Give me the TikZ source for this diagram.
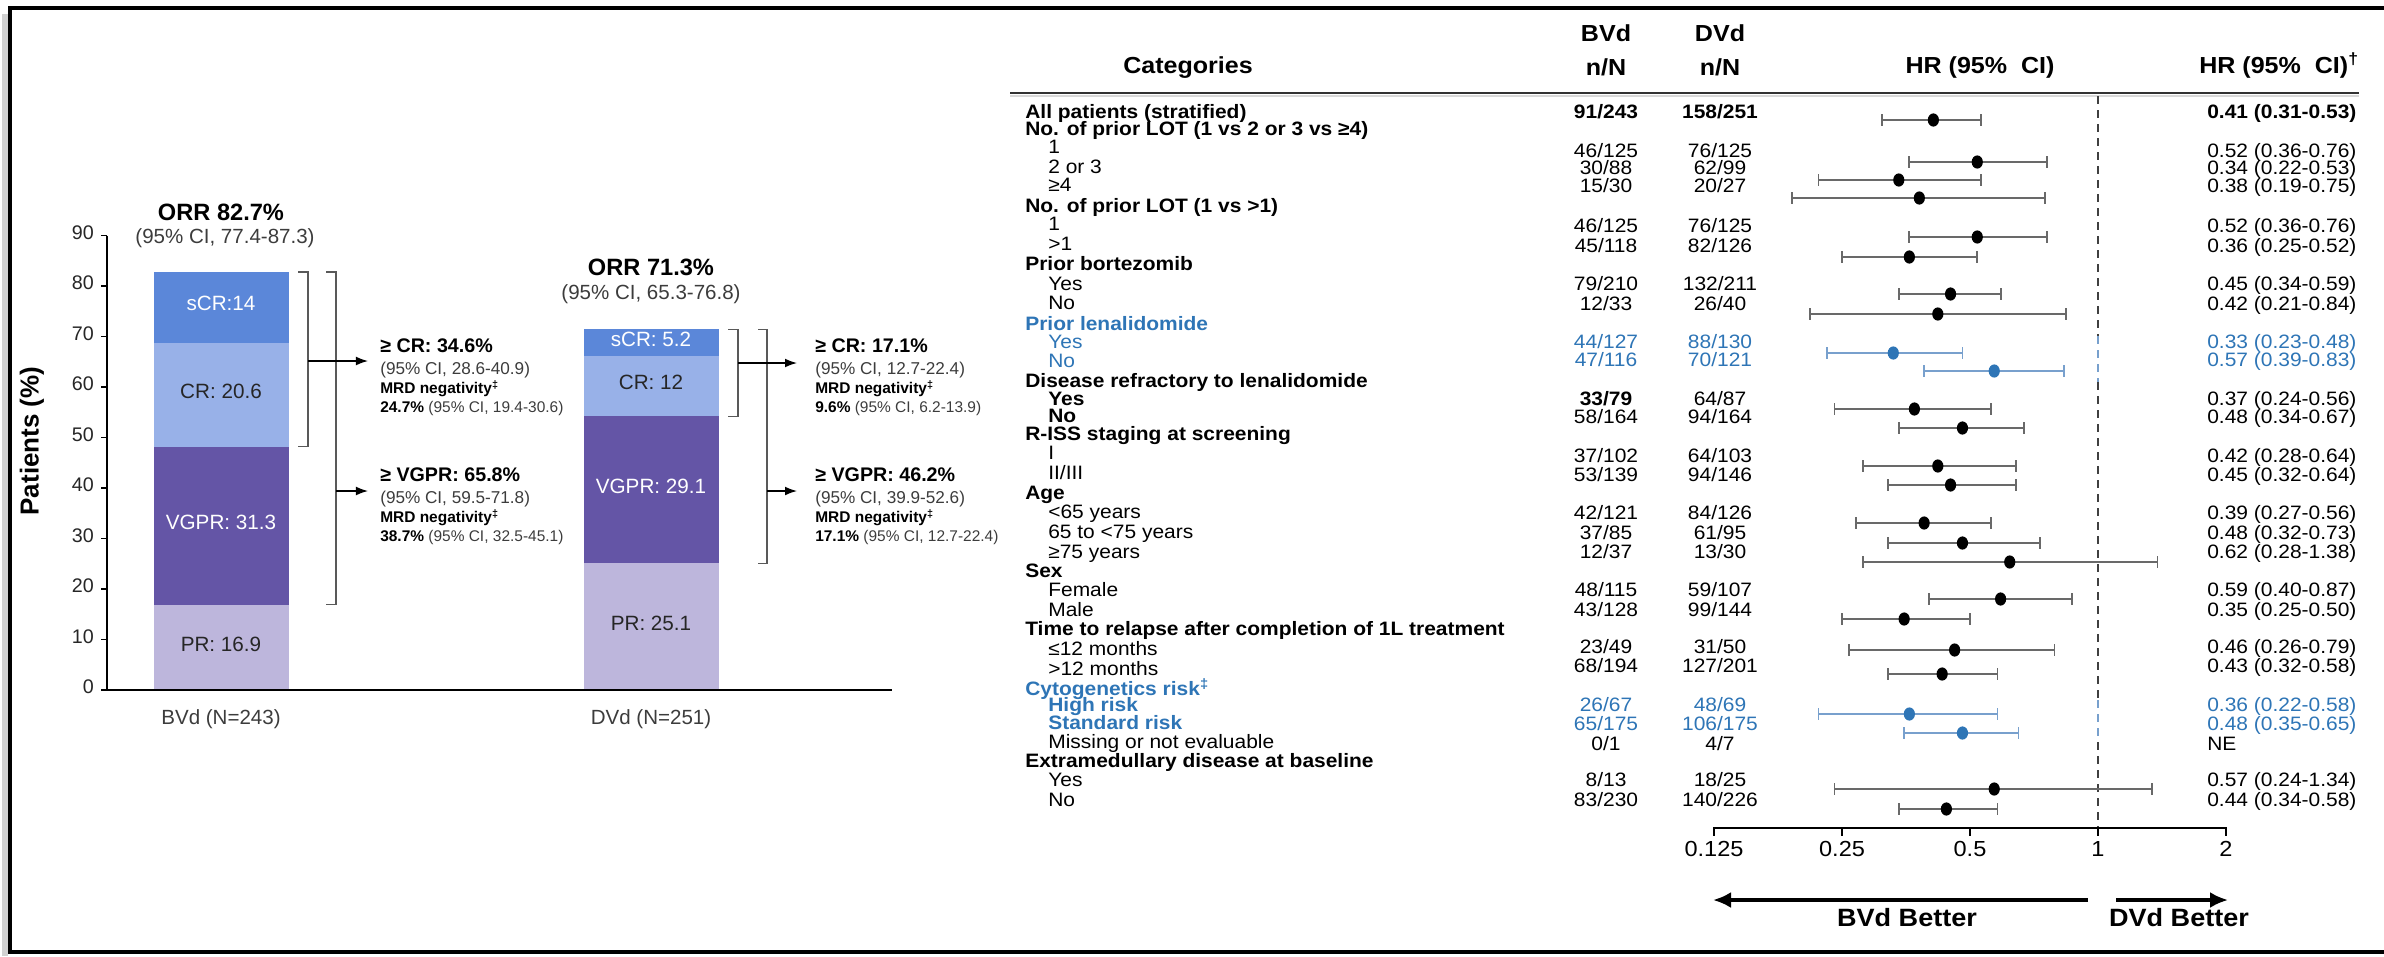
\documentclass[tikz,border=0pt]{standalone}
\usepackage{fontspec}
\setmainfont{Liberation Sans}
\newfontfamily\tblfont[FakeStretch=1.08]{Liberation Sans}
\usepackage{tikz}
\usetikzlibrary{calc}
\usetikzlibrary{arrows.meta}
\tikzset{>=latex}

\definecolor{scrblue}{RGB}{91,135,217}
\definecolor{crblue}{RGB}{152,177,232}
\definecolor{vgprpurple}{RGB}{100,85,166}
\definecolor{prlilac}{RGB}{189,182,220}
\definecolor{hlblue}{RGB}{46,117,182}
\definecolor{hlci}{RGB}{120,160,205}
\definecolor{cigray}{RGB}{105,105,105}
\definecolor{txtgray}{RGB}{60,60,60}

\newcommand{\fs}[1]{\fontsize{#1}{#1}\selectfont}
\newcommand{\tf}[1]{\tblfont\fontsize{#1}{#1}\selectfont}

\tikzset{
    every node/.style={inner sep=0pt},
    cat/.style={anchor=mid west, font=\tf{13.8}\bfseries},
    sub/.style={anchor=mid west, xshift=0.575cm, font=\tf{13.8}},
    bsub/.style={sub, font=\tf{13.8}\bfseries},
    hlcat/.style={cat, text=hlblue},
    hlsub/.style={sub, text=hlblue},
    hlbsub/.style={bsub, text=hlblue},
    num/.style={anchor=mid, font=\tf{13.8}},
    bnum/.style={num, font=\tf{13.8}\bfseries},
    hlnum/.style={num, text=hlblue},
    hdr/.style={anchor=mid, font=\tf{16.5}\bfseries},
    cibar/.style={line width=1.3pt},
    dashln/.style={line width=1.3pt, dash pattern=on 0.2cm off 0.15cm},
    axln/.style={line width=1.6pt},
    better/.style={line width=2.4pt, -{Latex[length=0.45cm, width=0.4cm]}},
    barlab/.style={anchor=mid, font=\fs{14.7}},
    ytick/.style={anchor=mid east, font=\fs{14}, text=black!85},
    brk/.style={line width=0.9pt, black!65},
    ann/.style={line width=0.9pt, -{Latex[length=0.3cm, width=0.22cm]}},
    resp/.style={anchor=mid west, font=\fs{14}\bfseries},
    respci/.style={anchor=mid west, font=\fs{12.2}, text=txtgray},
    mrd/.style={anchor=mid west, font=\fs{11}\bfseries},
    mrdval/.style={anchor=mid west, font=\fs{11}, text=txtgray},
    frm/.style={line width=2.2pt},
}

\begin{document}
\begin{tikzpicture}[x=0.025cm, y=-0.025cm]
    \useasboundingbox (0,0) rectangle (2384,956);
    % frame
    \draw[black!18, line width=4pt] (5,14) -- (5,956);
    \draw[frm] (2384,8) -- (10,8) -- (10,952) -- (2384,952);

    % response bars
    \foreach \xl/\lo/\hi/\col in {154/0/16.9/prlilac, 154/16.9/48.2/vgprpurple, 154/48.2/68.8/crblue, 154/68.8/82.8/scrblue,
                                  584/0/25.1/prlilac, 584/25.1/54.2/vgprpurple, 584/54.2/66.2/crblue, 584/66.2/71.4/scrblue}
        \fill[\col] (\xl,{690-5.05*\lo}) rectangle ({\xl+135},{690-5.05*\hi});
    \foreach \xc/\v/\lab/\tc [count=\i] in {221/8.45/{PR: 16.9}/black!85, 221/32.55/{VGPR: 31.3}/white, 221/58.5/{CR: 20.6}/black!85, 221/75.8/{sCR:14}/white,
                                            651/12.55/{PR: 25.1}/black!85, 651/39.65/{VGPR: 29.1}/white, 651/60.2/{CR: 12}/black!85, 651/68.8/{sCR: 5.2}/white}
        \node[barlab, text=\tc] (seg\i) at (\xc,{690-5.05*\v}) {\lab};

    % axes
    \draw[line width=1.4pt] (107,{690-5.05*90}) -- (107,690);
    \draw[line width=1.4pt] (101,690) -- (892,690);
    \foreach \v in {0,10,...,90}{
        \draw[line width=1.4pt] (101,{690-5.05*\v}) -- (107,{690-5.05*\v});
        \node[ytick] (yt\v) at (94,{690-5.05*\v}) {\v};
    }
    \node[rotate=90, font=\fs{18.5}\bfseries] (ylab) at (32,441) {Patients\ (\%)};
    \node[font=\fs{16.8}\bfseries] (orr1) at (221,212) {ORR 82.7\%};
    \node[font=\fs{14.6}, text=txtgray] (orr1ci) at (225,238) {(95\% CI, 77.4-87.3)};
    \node[font=\fs{16.8}\bfseries] (orr2) at (651,267) {ORR 71.3\%};
    \node[font=\fs{14.6}, text=txtgray] (orr2ci) at (651,294) {(95\% CI, 65.3-76.8)};
    \node[font=\fs{14.6}, text=txtgray] (arm1) at (221,719) {BVd (N=243)};
    \node[font=\fs{14.6}, text=txtgray] (arm2) at (651,719) {DVd (N=251)};

    % brackets, BVd
    \draw[brk] (298,271.9) -- (308,271.9) -- (308,446.6) -- (298,446.6);
    \draw[brk] (326,271.9) -- (336,271.9) -- (336,604.7) -- (326,604.7);
    \node[resp] (b1cr) at (380,349) {≥ CR: 34.6\%};
    \node[respci] (b1crci) at (380,371) {(95\% CI, 28.6-40.9)};
    \node[mrd] (b1crm) at (380,390) {MRD negativity\textsuperscript{‡}};
    \node[mrdval] (b1crv) at (380,409) {\textcolor{black}{\bfseries 24.7\%} (95\% CI, 19.4-30.6)};
    \node[resp] (b1vg) at (380,478) {≥ VGPR: 65.8\%};
    \node[respci] (b1vgci) at (380,500) {(95\% CI, 59.5-71.8)};
    \node[mrd] (b1vgm) at (380,519) {MRD negativity\textsuperscript{‡}};
    \node[mrdval] (b1vgv) at (380,538) {\textcolor{black}{\bfseries 38.7\%} (95\% CI, 32.5-45.1)};
    \coordinate (b1cra) at (308,361);
    \coordinate (b1vga) at (336,491);
    \draw[ann, shorten >=0.3cm] (b1cra) -- (b1cra -| b1cr.west);
    \draw[ann, shorten >=0.3cm] (b1vga) -- (b1vga -| b1vg.west);

    % brackets, DVd
    \draw[brk] (728,329.4) -- (738,329.4) -- (738,416.3) -- (728,416.3);
    \draw[brk] (758,329.4) -- (767,329.4) -- (767,563.2) -- (758,563.2);
    \node[resp] (b2cr) at (815,349) {≥ CR: 17.1\%};
    \node[respci] (b2crci) at (815,371) {(95\% CI, 12.7-22.4)};
    \node[mrd] (b2crm) at (815,390) {MRD negativity\textsuperscript{‡}};
    \node[mrdval] (b2crv) at (815,409) {\textcolor{black}{\bfseries 9.6\%} (95\% CI, 6.2-13.9)};
    \node[resp] (b2vg) at (815,478) {≥ VGPR: 46.2\%};
    \node[respci] (b2vgci) at (815,500) {(95\% CI, 39.9-52.6)};
    \node[mrd] (b2vgm) at (815,519) {MRD negativity\textsuperscript{‡}};
    \node[mrdval] (b2vgv) at (815,538) {\textcolor{black}{\bfseries 17.1\%} (95\% CI, 12.7-22.4)};
    \coordinate (b2cra) at (738,363);
    \coordinate (b2vga) at (767,491);
    \draw[ann, shorten >=0.45cm] (b2cra) -- (b2cra -| b2cr.west);
    \draw[ann, shorten >=0.45cm] (b2vga) -- (b2vga -| b2vg.west);

    % forest table header
    \node[hdr] (hcat) at (1188,70) {Categories};
    \node[hdr] (hbv) at (1606,38) {BVd};
    \node[hdr] (hbvn) at (1606,72) {n/N};
    \node[hdr] (hdv) at (1720,38) {DVd};
    \node[hdr] (hdvn) at (1720,72) {n/N};
    \node[hdr] (hhr) at (1980,70) {HR (95\%\ \ CI)};
    \node[hdr, anchor=mid east] (hhrt) at (2359,70) {HR (95\%\ \ CI)\textsuperscript{†}};
    \draw[black!15, line width=2pt] (1010,96) -- (2359,96);
    \draw[black!80, line width=1.5pt] (1010,93) -- (2359,93);

    % categories
    \foreach \y/\lab/\sty in {115/All patients (stratified)/cat, 132/No. of prior LOT (1 vs 2 or 3 vs ≥4)/cat,
                              150/1/sub, 170/2 or 3/sub, 188/≥4/sub,
                              209/No. of prior LOT (1 vs >1)/cat, 227/1/sub, 247/>1/sub,
                              267/Prior bortezomib/cat, 287/Yes/sub, 306/No/sub,
                              327/Prior lenalidomide/hlcat, 345/Yes/hlsub, 364/No/hlsub,
                              384/Disease refractory to lenalidomide/cat, 402/Yes/bsub, 419/No/bsub,
                              437/R-ISS staging at screening/cat, 456/I/sub, 476/{II/III}/sub,
                              496/Age/cat, 515/<65 years/sub, 535/65 to <75 years/sub, 555/≥75 years/sub,
                              574/Sex/cat, 593/Female/sub, 613/Male/sub,
                              632/Time to relapse after completion of 1L treatment/cat, 652/≤12 months/sub, 672/>12 months/sub,
                              692/{Cytogenetics risk\textsuperscript{‡}}/hlcat, 708/High risk/hlbsub, 726/Standard risk/hlbsub,
                              745/Missing or not evaluable/sub,
                              764/Extramedullary disease at baseline/cat, 783/Yes/sub, 803/No/sub}
        \node[\sty] (lab\y) at (1025,\y) {\lab};

    % n/N and HR values
    \foreach \y/\bv/\dv/\hrt/\sty in {115/{91/243}/{158/251}/{0.41 (0.31-0.53)}/bnum,
                                     154/{46/125}/{76/125}/{0.52 (0.36-0.76)}/num, 171/{30/88}/{62/99}/{0.34 (0.22-0.53)}/num,
                                     189/{15/30}/{20/27}/{0.38 (0.19-0.75)}/num,
                                     229/{46/125}/{76/125}/{0.52 (0.36-0.76)}/num, 249/{45/118}/{82/126}/{0.36 (0.25-0.52)}/num,
                                     287/{79/210}/{132/211}/{0.45 (0.34-0.59)}/num, 307/{12/33}/{26/40}/{0.42 (0.21-0.84)}/num,
                                     345/{44/127}/{88/130}/{0.33 (0.23-0.48)}/hlnum, 363/{47/116}/{70/121}/{0.57 (0.39-0.83)}/hlnum,
                                     402/{\textbf{33/79}}/{64/87}/{0.37 (0.24-0.56)}/num, 420/{58/164}/{94/164}/{0.48 (0.34-0.67)}/num,
                                     459/{37/102}/{64/103}/{0.42 (0.28-0.64)}/num, 478/{53/139}/{94/146}/{0.45 (0.32-0.64)}/num,
                                     516/{42/121}/{84/126}/{0.39 (0.27-0.56)}/num, 536/{37/85}/{61/95}/{0.48 (0.32-0.73)}/num,
                                     555/{12/37}/{13/30}/{0.62 (0.28-1.38)}/num,
                                     593/{48/115}/{59/107}/{0.59 (0.40-0.87)}/num, 613/{43/128}/{99/144}/{0.35 (0.25-0.50)}/num,
                                     650/{23/49}/{31/50}/{0.46 (0.26-0.79)}/num, 669/{68/194}/{127/201}/{0.43 (0.32-0.58)}/num,
                                     708/{26/67}/{48/69}/{0.36 (0.22-0.58)}/hlnum, 727/{65/175}/{106/175}/{0.48 (0.35-0.65)}/hlnum,
                                     747/{0/1}/{4/7}/{NE}/num,
                                     783/{8/13}/{18/25}/{0.57 (0.24-1.34)}/num, 803/{83/230}/{140/226}/{0.44 (0.34-0.58)}/num}{
        \node[\sty] (bv\y) at (1606,\y) {\bv};
        \node[\sty] (dv\y) at (1720,\y) {\dv};
        \node[\sty, anchor=mid west] (hr\y) at (2207,\y) {\hrt};
    }

    % reference line at HR = 1
    \draw[dashln, black!75] (2098,96) -- (2098,336);
    \draw[dashln, hlci] (2098,336) -- (2098,382);
    \draw[dashln, black!75] (2098,382) -- (2098,700);
    \draw[dashln, hlci] (2098,700) -- (2098,742);
    \draw[dashln, black!75] (2098,742) -- (2098,828);

    % hazard ratios
    \foreach \y/\hr/\lo/\hi/\lc/\mc in {120/0.41/0.31/0.53/cigray/black,
                                        162/0.52/0.36/0.76/cigray/black, 180/0.34/0.22/0.53/cigray/black, 198/0.38/0.19/0.75/cigray/black,
                                        237/0.52/0.36/0.76/cigray/black, 257/0.36/0.25/0.52/cigray/black,
                                        294/0.45/0.34/0.59/cigray/black, 314/0.42/0.21/0.84/cigray/black,
                                        353/0.33/0.23/0.48/hlci/hlblue, 371/0.57/0.39/0.83/hlci/hlblue,
                                        409/0.37/0.24/0.56/cigray/black, 428/0.48/0.34/0.67/cigray/black,
                                        466/0.42/0.28/0.64/cigray/black, 485/0.45/0.32/0.64/cigray/black,
                                        523/0.39/0.27/0.56/cigray/black, 543/0.48/0.32/0.73/cigray/black, 562/0.62/0.28/1.38/cigray/black,
                                        599/0.59/0.40/0.87/cigray/black, 619/0.35/0.25/0.50/cigray/black,
                                        650/0.46/0.26/0.79/cigray/black, 674/0.43/0.32/0.58/cigray/black,
                                        714/0.36/0.22/0.58/hlci/hlblue, 733/0.48/0.35/0.65/hlci/hlblue,
                                        789/0.57/0.24/1.34/cigray/black, 809/0.44/0.34/0.58/cigray/black}{
        \pgfmathsetmacro\xm{2098+184.66*ln(\hr)}
        \pgfmathsetmacro\xl{2098+184.66*ln(\lo)}
        \pgfmathsetmacro\xh{2098+184.66*ln(\hi)}
        \draw[cibar, \lc] (\xl,\y) -- (\xh,\y);
        \draw[cibar, \lc] (\xl,{\y-6}) -- (\xl,{\y+6});
        \draw[cibar, \lc] (\xh,{\y-6}) -- (\xh,{\y+6});
        \fill[\mc] (\xm,\y) ellipse [x radius=0.14cm, y radius=0.165cm];
    }

    % log axis
    \coordinate (axl) at (1714,828);
    \coordinate (axr) at (2226,828);
    \draw[axln] (axl) -- (axr);
    \foreach \v [count=\i] in {0.125,0.25,0.5,1,2}{
        \pgfmathsetmacro\xt{2098+184.66*ln(\v)}
        \draw[axln] (\xt,827) -- (\xt,836);
        \node[anchor=mid, font=\tf{15.5}] (ft\i) at (\xt,853) {\v};
    }
    \coordinate (bvs) at (2088,900);
    \coordinate (bve) at (1713,900);
    \coordinate (dvs) at (2116,900);
    \coordinate (dve) at (2228,900);
    \draw[better] (bvs) -- (bve);
    \draw[better] (dvs) -- (dve);
    \node[anchor=mid, font=\tf{17.8}\bfseries] (bvbet) at (1907,923) {BVd Better};
    \node[anchor=mid, font=\tf{17.8}\bfseries] (dvbet) at (2179,923) {DVd Better};
\end{tikzpicture}
\end{document}
